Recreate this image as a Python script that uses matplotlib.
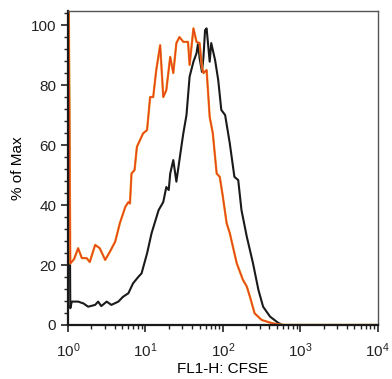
import matplotlib
matplotlib.use('Agg')
import matplotlib.pyplot as plt
from matplotlib.ticker import LogLocator, MultipleLocator, NullFormatter

plt.rcParams['font.family'] = ['Liberation Sans', 'DejaVu Sans']
plt.rcParams['mathtext.fontset'] = 'custom'
plt.rcParams['mathtext.rm'] = 'Liberation Sans'
plt.rcParams['mathtext.default'] = 'rm'

# CFSE histogram, orange sample
x_naranja = [1.0, 1.07, 1.20, 1.35, 1.51, 1.74, 1.91, 2.24, 2.57, 3.02, 3.47, 4.07, 4.68,
             5.50, 6.03, 6.31, 6.61, 7.24, 7.76, 9.33, 10.5, 11.5, 12.6, 13.8, 15.5, 17.0,
             18.6, 20.9, 22.9, 25.1, 27.5, 30.9, 35.5, 37.2, 41.7, 45.7, 50.1, 53.7, 56.2,
             61.7, 67.6, 74.1, 83.2, 91.2, 100, 112, 123, 151, 182, 204, 224, 257, 316,
             407, 490, 631, 10000]
y_naranja = [150, 20.5, 22, 25.6, 22.3, 22.3, 21, 26.7, 25.6, 21.7, 24.4, 27.8, 34,
             39.4, 41, 40.5, 50.5, 51.7, 59.4, 63.9, 65, 76, 76, 85, 93.3, 76,
             78.3, 89.4, 84, 94, 96, 94.4, 94.4, 86.7, 98.9, 94.4, 94, 86, 84,
             85, 69.4, 64, 50.5, 49.4, 42.8, 33.9, 30.6, 20.6, 15, 12.8, 9.4, 3.9, 1.7,
             0.8, 0.3, 0, 0]

# CFSE histogram, black sample
x_negro = [1.0, 1.07, 1.12, 1.35, 1.58, 1.82, 2.24, 2.45, 2.69, 3.16, 3.63, 4.47, 5.13,
           6.03, 6.92, 8.13, 8.91, 10.5, 12.0, 14.8, 17.0, 18.6, 20.0, 20.9, 22.9, 25.1,
           29.5, 30.9, 33.9, 37.2, 41.7, 45.7, 47.9, 50.1, 53.7, 56.2, 58.9, 61.7, 67.6,
           70.8, 79.4, 87.1, 95.5, 107, 123, 141, 158, 174, 204, 245, 288, 331, 407,
           513, 589, 10000]
y_negro = [150, 5.6, 7.8, 7.8, 7.2, 6.1, 6.7, 7.8, 6.3, 7.8, 6.7, 7.8, 9.4,
           10.6, 13.9, 16.1, 17.2, 23.9, 30.6, 38.3, 41, 46, 45, 50.5, 55, 47.8,
           60.5, 64, 70, 82.8, 87.8, 90.6, 94, 88.9, 84.4, 89.4, 98.3, 98.9, 87.8,
           94, 88.3, 81.7, 71.7, 70, 60.5, 49.4, 48.3, 38.3, 29.4, 20.6, 11.7, 6.1, 2.8,
           0.8, 0, 0]

fig = plt.figure(figsize=(3.92, 3.79), dpi=100)
ax = fig.add_axes([0.1735, 0.1425, 0.79, 0.8285])

ax.plot(x_negro, y_negro, color='#1a1a1a', linewidth=1.5)
ax.plot(x_naranja, y_naranja, color='#f0a828', linewidth=1.7)
ax.plot(x_naranja, y_naranja, color='#e8441c', linewidth=1.1)

ax.set_xscale('log')
ax.set_xlim(1, 10000)
ax.set_ylim(0, 104.7)

ax.set_xticks([1, 10, 100, 1000, 10000])
ax.set_xticklabels(['$10^{0}$', '$10^{1}$', '$10^{2}$', '$10^{3}$', '$10^{4}$'])
ax.xaxis.set_minor_locator(LogLocator(base=10, subs=range(2, 10), numticks=20))
ax.xaxis.set_minor_formatter(NullFormatter())
ax.yaxis.set_major_locator(MultipleLocator(20))
ax.yaxis.set_minor_locator(MultipleLocator(4))

ax.tick_params(which='major', direction='out', length=5, width=1.2, labelsize=11, colors='#222222')
ax.tick_params(which='minor', direction='out', length=3, width=1.0, colors='#222222')
ax.tick_params(axis='x', which='major', pad=7)

for lado in ['left', 'bottom']:
    ax.spines[lado].set_linewidth(1.6)
    ax.spines[lado].set_color('#1a1a1a')
for lado in ['top', 'right']:
    ax.spines[lado].set_linewidth(1.0)
    ax.spines[lado].set_color('#555555')

ax.set_xlabel('FL1-H: CFSE', fontsize=11, labelpad=1)
ax.set_ylabel('% of Max', fontsize=11, labelpad=4)

plt.savefig('out.png', dpi=100)
